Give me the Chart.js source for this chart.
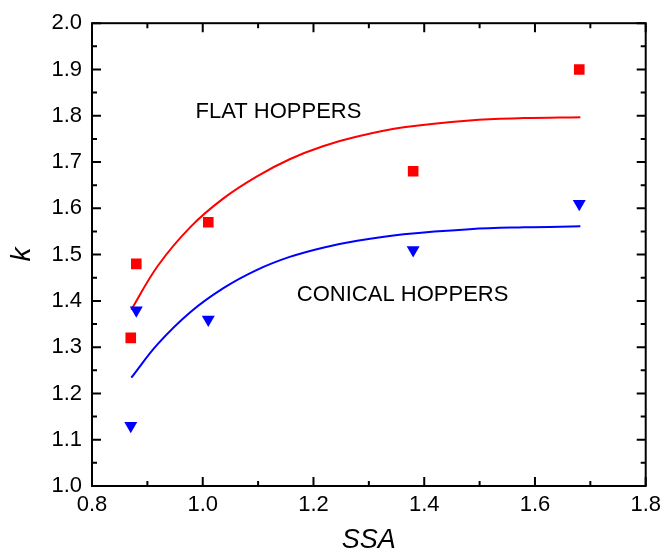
<!DOCTYPE html>
<html>
<head>
<meta charset="utf-8">
<script src="https://cdn.jsdelivr.net/npm/chart.js@4.4.1/dist/chart.umd.min.js"></script>
<style>
  html, body { margin: 0; padding: 0; background: #ffffff; }
  #wrap { width: 667px; height: 555px; position: relative; }
</style>
</head>
<body>
<div id="wrap"><canvas id="c" width="667" height="555"></canvas></div>
<script>
// ---- data ----
const flatSSA = [0.87, 0.88, 1.01, 1.38, 1.68];
const flatK   = [1.32, 1.48, 1.57, 1.68, 1.90];
const conicalSSA = [0.87, 0.88, 1.01, 1.38, 1.68];
const conicalK   = [1.13, 1.38, 1.36, 1.51, 1.61];

const flatCurveSSA = [0.871, 0.919, 0.978, 1.038, 1.098, 1.157, 1.217, 1.279, 1.363, 1.482, 1.580, 1.682];
const flatCurveK   = [1.381, 1.476, 1.560, 1.622, 1.669, 1.706, 1.734, 1.755, 1.775, 1.790, 1.795, 1.797];
const conicalCurveSSA = [0.871, 0.919, 0.978, 1.038, 1.098, 1.157, 1.217, 1.279, 1.363, 1.482, 1.580, 1.682];
const conicalCurveK   = [1.234, 1.307, 1.376, 1.428, 1.467, 1.495, 1.515, 1.530, 1.544, 1.555, 1.559, 1.561];

const xTickValues = [0.8, 1.0, 1.2, 1.4, 1.6, 1.8];
const yTickValues = [1.0, 1.1, 1.2, 1.3, 1.4, 1.5, 1.6, 1.7, 1.8, 1.9, 2.0];

const labelTexts = ['FLAT HOPPERS', 'CONICAL HOPPERS'];
const labelSSA   = [0.987, 1.170];
const labelK     = [1.809, 1.413];

const xTitle = 'SSA';
const yTitle = 'k';

// ---- build ----
const pts = (xs, ys) => xs.map((x, i) => ({ x: x, y: ys[i] }));
const FONT = "'Liberation Sans', Arial, Helvetica, sans-serif";

const framePlugin = {
  id: 'frame',
  afterDraw(chart) {
    const ctx = chart.ctx;
    const a = chart.chartArea;
    const xs = chart.scales.x, ys = chart.scales.y;
    ctx.save();
    ctx.strokeStyle = '#000';
    ctx.lineWidth = 2;
    ctx.strokeRect(a.left, a.top, a.right - a.left, a.bottom - a.top);
    ctx.beginPath();
    const major = 9, minor = 5;
    xTickValues.forEach((v, i) => {
      const p = xs.getPixelForValue(v);
      ctx.moveTo(p, a.bottom); ctx.lineTo(p, a.bottom - major);
      ctx.moveTo(p, a.top); ctx.lineTo(p, a.top + major);
      if (i < xTickValues.length - 1) {
        const m = (p + xs.getPixelForValue(xTickValues[i + 1])) / 2;
        ctx.moveTo(m, a.bottom); ctx.lineTo(m, a.bottom - minor);
        ctx.moveTo(m, a.top); ctx.lineTo(m, a.top + minor);
      }
    });
    yTickValues.forEach((v, i) => {
      const p = ys.getPixelForValue(v);
      ctx.moveTo(a.left, p); ctx.lineTo(a.left + major, p);
      ctx.moveTo(a.right, p); ctx.lineTo(a.right - major, p);
      if (i < yTickValues.length - 1) {
        const m = (p + ys.getPixelForValue(yTickValues[i + 1])) / 2;
        ctx.moveTo(a.left, m); ctx.lineTo(a.left + minor, m);
        ctx.moveTo(a.right, m); ctx.lineTo(a.right - minor, m);
      }
    });
    ctx.stroke();

    ctx.fillStyle = '#000';
    ctx.font = '22px ' + FONT;
    ctx.textAlign = 'left';
    ctx.textBaseline = 'middle';
    labelTexts.forEach((t, i) => {
      ctx.fillText(t, xs.getPixelForValue(labelSSA[i]), ys.getPixelForValue(labelK[i]));
    });
    ctx.restore();
  }
};

new Chart(document.getElementById('c'), {
  type: 'scatter',
  data: {
    datasets: [
      {
        label: 'Flat hoppers',
        data: pts(flatSSA, flatK),
        pointStyle: 'rect',
        pointRadius: 7.5,
        pointHoverRadius: 7.5,
        backgroundColor: '#ff0000',
        borderColor: '#ff0000',
        borderWidth: 0,
        showLine: false
      },
      {
        label: 'Conical hoppers',
        data: pts(conicalSSA, conicalK),
        pointStyle: 'triangle',
        rotation: 180,
        pointRadius: 7.5,
        pointHoverRadius: 7.5,
        backgroundColor: '#0000ff',
        borderColor: '#0000ff',
        borderWidth: 0,
        showLine: false
      },
      {
        label: 'Flat fit',
        data: pts(flatCurveSSA, flatCurveK),
        showLine: true,
        borderColor: '#ff0000',
        borderWidth: 2,
        pointRadius: 0,
        tension: 0.4,
        fill: false
      },
      {
        label: 'Conical fit',
        data: pts(conicalCurveSSA, conicalCurveK),
        showLine: true,
        borderColor: '#0000ff',
        borderWidth: 2,
        pointRadius: 0,
        tension: 0.4,
        fill: false
      }
    ]
  },
  options: {
    responsive: false,
    animation: false,
    devicePixelRatio: 1,
    layout: { padding: { left: 0, top: 19, right: 16, bottom: 0 } },
    plugins: { legend: { display: false }, tooltip: { enabled: false } },
    scales: {
      x: {
        type: 'linear',
        min: 0.8, max: 1.8,
        afterFit: s => { s.height = 69; },
        afterBuildTicks: s => { s.ticks = xTickValues.map(v => ({ value: v })); },
        grid: { display: false, drawTicks: false },
        border: { display: false },
        ticks: {
          padding: 6,
          color: '#000',
          font: { family: FONT, size: 22 },
          maxRotation: 0,
          callback: v => Number(v).toFixed(1)
        },
        title: {
          display: true, text: xTitle, color: '#000',
          font: { family: FONT, size: 27, style: 'italic' },
          padding: { top: 0, bottom: -2 }
        }
      },
      y: {
        type: 'linear',
        min: 1.0, max: 2.0,
        afterFit: s => { s.width = 92; },
        afterBuildTicks: s => { s.ticks = yTickValues.map(v => ({ value: v })); },
        grid: { display: false, drawTicks: false },
        border: { display: false },
        ticks: {
          padding: 10,
          color: '#000',
          font: { family: FONT, size: 22 },
          callback: v => Number(v).toFixed(1)
        },
        title: {
          display: true, text: yTitle, color: '#000',
          font: { family: FONT, size: 28, style: 'italic' },
          padding: { top: 5, bottom: 0 }
        }
      }
    }
  },
  plugins: [framePlugin]
});
</script>
</body>
</html>
